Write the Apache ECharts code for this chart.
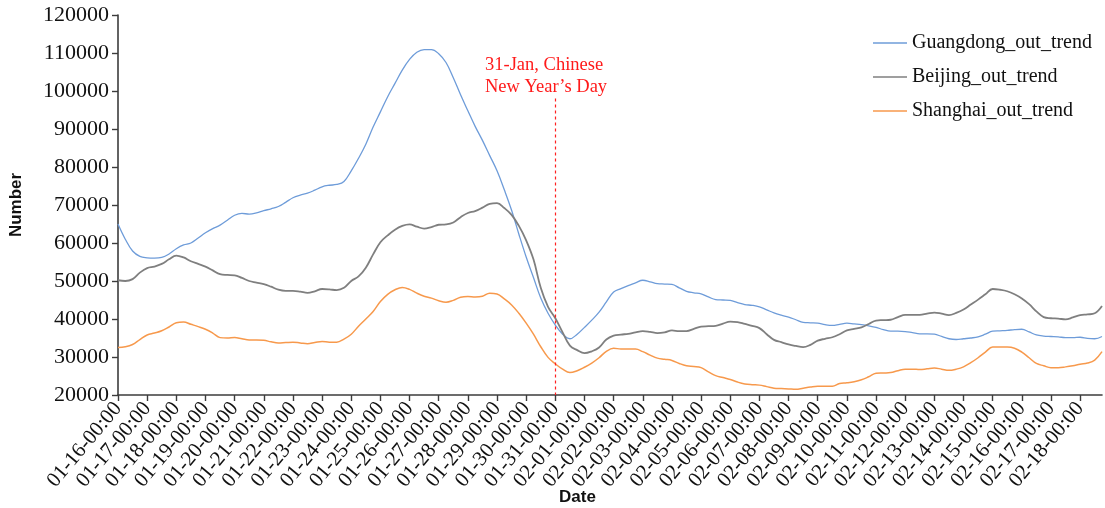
<!DOCTYPE html>
<html>
<head>
<meta charset="utf-8">
<script src="https://cdn.jsdelivr.net/npm/echarts@6/dist/echarts.min.js"></script>
<style>
html,body{margin:0;padding:0;background:#fff;}
#chart{width:1105px;height:508px;}
</style>
</head>
<body>
<div id="chart"></div>
<script>
// ---- Data (6-hour steps, 01-16-00:00 .. 02-18-18:00) ----
const dayLabels = ['01-16','01-17','01-18','01-19','01-20','01-21','01-22','01-23','01-24','01-25','01-26','01-27','01-28','01-29','01-30','01-31',
  '02-01','02-02','02-03','02-04','02-05','02-06','02-07','02-08','02-09','02-10','02-11','02-12','02-13','02-14','02-15','02-16','02-17','02-18'];
const hours = ['00:00','06:00','12:00','18:00'];
const seriesNames = ['Guangdong_out_trend','Beijing_out_trend','Shanghai_out_trend'];
const annotationDate = '01-31-00:00';
const annotationText = '31-Jan, Chinese\nNew Year\u2019s Day';
const yTicks = {min:20000, max:120000, interval:10000};

const guangdong = [
65000,61000,57900,56500,56100,56000,56200,57100,58500,59500,60000,61300,62700,63800,64700,66000,
67300,67800,67600,67900,68500,69000,69600,70700,71900,72600,73100,73900,74800,75200,75400,76200,
79000,82300,86000,90500,94500,98500,102000,105500,108300,110200,110900,110900,109800,107500,103500,99000,
94800,90700,87000,83000,79000,74000,68600,62300,56300,50900,45500,41500,38400,36000,34800,36000,
37800,39700,41800,44500,47100,48000,48800,49500,50200,49800,49300,49200,49100,48200,47300,46900,
46600,45800,45100,45000,44900,44300,43800,43600,43200,42400,41600,41000,40500,39800,39100,39000,
38900,38500,38300,38600,38900,38700,38500,38200,37800,37200,36800,36800,36700,36400,36100,36100,
36000,35400,34800,34600,34800,35000,35300,36000,36800,36900,37000,37200,37300,36600,35800,35500,
35400,35300,35100,35100,35200,34900,34800,35400];

const beijing = [
50200,50000,50500,52200,53400,53800,54500,55700,56700,56200,55200,54500,53800,52800,51800,51600,
51500,50800,50000,49600,49200,48500,47700,47400,47400,47200,46900,47300,47900,47800,47600,48200,
50000,51200,53500,57000,60200,62000,63500,64500,64900,64300,63800,64200,64800,64900,65400,66800,
67900,68400,69300,70300,70500,69200,67400,64500,60700,55700,48200,43200,40200,36500,33000,31800,
31000,31500,32500,34600,35600,35900,36100,36500,36800,36600,36300,36500,37000,36800,36800,37400,
38000,38100,38200,38800,39300,39200,38700,38200,37600,36000,34500,33900,33300,32900,32600,33200,
34300,34800,35200,36000,37000,37400,37800,38700,39600,39700,39800,40500,41100,41100,41100,41400,
41700,41400,41000,41600,42500,43800,45100,46500,47900,47700,47300,46500,45400,43900,42000,40500,
40200,40100,39900,40400,41000,41200,41500,43400];

const shanghai = [
32500,32700,33300,34600,35800,36300,36900,37900,39000,39200,38600,38000,37300,36300,35100,35000,
35100,34800,34500,34500,34400,34000,33700,33800,33900,33700,33500,33800,34100,33900,33900,34700,
36000,38100,40000,42000,44600,46500,47700,48300,47800,46800,46000,45500,44800,44400,44900,45700,
45900,45800,46000,46800,46600,45300,43700,41500,38900,36000,32700,29900,28200,26800,25900,26400,
27300,28400,29800,31500,32300,32100,32100,32100,31400,30500,29700,29400,29100,28300,27700,27500,
27200,26100,25100,24600,24100,23400,22900,22700,22600,22200,21800,21700,21600,21500,21800,22100,
22300,22300,22300,23000,23200,23500,24000,24800,25700,25800,25900,26400,26800,26800,26700,26900,
27100,26800,26500,26800,27400,28500,29800,31300,32600,32600,32600,32300,31300,29800,28300,27700,
27200,27200,27400,27700,28100,28400,29200,31400];

const categories = [];
dayLabels.forEach(d => hours.forEach(h => categories.push(d + '-' + h)));
categories.length = guangdong.length;

const colors = ['#6E9CD9','#7F7F7F','#F7994C'];
const serif = 'Liberation Serif';

const chart = echarts.init(document.getElementById('chart'), null, {renderer:'canvas'});
chart.setOption({
  animation:false,
  backgroundColor:'#fff',
  grid:{left:112, right:3, top:15, bottom:113, containLabel:false},
  legend:{
    orient:'vertical', left:873, top:33, padding:0,
    icon:'rect', itemWidth:34, itemHeight:1.5, itemGap:14,
    textStyle:{fontFamily:serif, fontSize:20, color:'#111'},
    data:seriesNames
  },
  xAxis:{
    type:'category', data:categories, boundaryGap:false,
    axisLine:{lineStyle:{color:'#3c3c3c', width:1.6}},
    axisTick:{interval:3, length:6, inside:false, lineStyle:{color:'#3c3c3c', width:1.4}},
    axisLabel:{interval:3, rotate:50, fontFamily:serif, fontSize:21, color:'#111', margin:10},
    splitLine:{show:false}
  },
  yAxis:{
    type:'value', min:yTicks.min, max:yTicks.max, interval:yTicks.interval,
    name:'Number', nameLocation:'middle', nameRotate:90, nameGap:93,
    nameTextStyle:{fontFamily:'Liberation Sans', fontWeight:'bold', fontSize:17, color:'#111'},
    axisLine:{show:true, lineStyle:{color:'#3c3c3c', width:1.6}},
    axisTick:{show:true, length:6, lineStyle:{color:'#3c3c3c', width:1.4}},
    axisLabel:{fontFamily:serif, fontSize:22, color:'#111', margin:9, formatter: v => String(v)},
    splitLine:{show:false}
  },
  graphic:[
    {type:'text', left:559, top:489, style:{text:'Date', font:'bold 17px "Liberation Sans"', fill:'#111'}},
    {type:'text', left:485, top:54, style:{text:annotationText, font:'18.5px "Liberation Serif"', fill:'#FF1A1A', lineHeight:22}}
  ],
  series:[
    {name:seriesNames[0], type:'line', data:guangdong, smooth:0.4, symbol:'none',
      lineStyle:{color:colors[0], width:1.3}, itemStyle:{color:colors[0]},
      markLine:{silent:true, symbol:'none', label:{show:false},
        lineStyle:{color:'#FF2020', type:[3,3], width:1.2},
        data:[[{coord:[annotationDate, 98000]},{coord:[annotationDate, 20000]}]]}},
    {name:seriesNames[1], type:'line', data:beijing, smooth:0.4, symbol:'none',
      lineStyle:{color:colors[1], width:1.8}, itemStyle:{color:colors[1]}},
    {name:seriesNames[2], type:'line', data:shanghai, smooth:0.4, symbol:'none',
      lineStyle:{color:colors[2], width:1.5}, itemStyle:{color:colors[2]}}
  ]
});
</script>
</body>
</html>
